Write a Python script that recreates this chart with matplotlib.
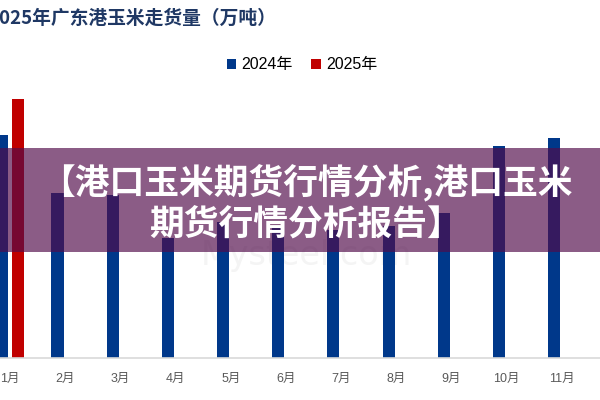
import matplotlib
matplotlib.use('Agg')
import matplotlib.pyplot as plt
import numpy as np

plt.rcParams['font.family'] = ['Liberation Sans', 'Noto Sans CJK SC', 'DejaVu Sans']

months = ['1月', '2月', '3月', '4月', '5月', '6月', '7月', '8月', '9月', '10月', '11月']
# 万吨 (tops under the banner are estimates)
vol_2024 = [172, 127, 126, 93, 105, 100, 99, 102, 112, 164, 170]
vol_2025 = [200]

title = '2025年广东港玉米走货量（万吨）'
banner = '【港口玉米期货行情分析,港口玉米\n期货行情分析报告】'

blue = '#00388A'
red = '#C00000'

fig = plt.figure(figsize=(6, 4), dpi=100)
ax = fig.add_axes([0, 0.105, 1, 0.745])

x = np.arange(len(months))
w = 0.22
off = 0.14
ax.bar(x - off, vol_2024, w, color=blue, label='2024年', zorder=2)
ax.bar(x[:len(vol_2025)] + off, vol_2025, w, color=red, label='2025年', zorder=2)

ax.set_xlim(-0.181, 10.69)
ax.set_ylim(0, 230)
ax.set_xticks(x)
ax.set_xticklabels(months, color='#595959', fontsize=9)
ax.tick_params(axis='x', length=0, pad=11)
ax.set_yticks([])
for s in ['top', 'right', 'left']:
    ax.spines[s].set_visible(False)
ax.spines['bottom'].set_color('#d9d9d9')
ax.spines['bottom'].set_linewidth(1.2)

# watermark, behind the bars
ax.text(0.51, 0.36, 'Mysteel.com', transform=fig.transFigure, fontsize=24,
        color='#f4f4f4', ha='center', va='center', family=['DejaVu Sans'], zorder=1)

fig.legend(loc='center', bbox_to_anchor=(0.503, 0.8375), ncol=2, frameon=False,
           fontsize=11.5, handlelength=0.6, handleheight=0.6, handletextpad=0.3,
           columnspacing=1.2)

fig.text(-0.02, 0.955, title, fontsize=13.5, fontweight='bold', color='#1F3864',
         ha='left', va='center', family=['Noto Sans CJK SC'])

# banner overlay
fig.patches.append(plt.Rectangle((0, 1 - 252 / 400), 1, 104 / 400, transform=fig.transFigure,
                                 facecolor='#520C4B', edgecolor='none', linewidth=0,
                                 alpha=0.67, zorder=5))
fig.text(0.51, 0.494, banner, fontsize=25, fontweight='heavy', color='white',
         ha='center', va='center', linespacing=1.2, family=['Noto Sans CJK SC'], zorder=6)

fig.savefig('out.png', dpi=100)
